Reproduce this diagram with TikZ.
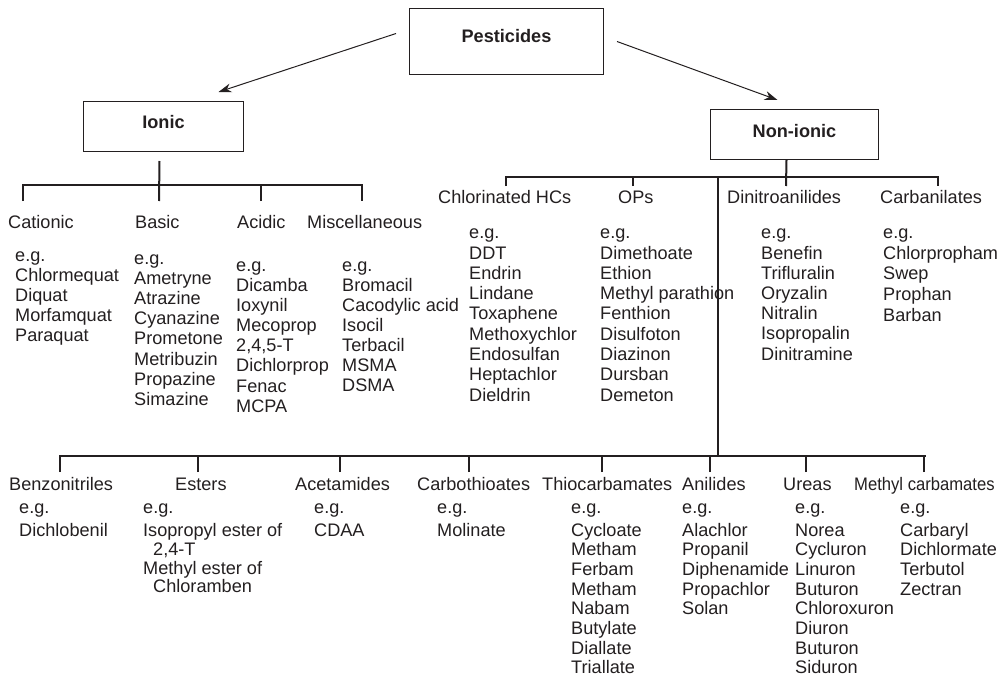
\documentclass[tikz,border=0pt]{standalone}
\usepackage{fontspec}
\setmainfont{Liberation Sans}
\usetikzlibrary{arrows.meta,calc}
\definecolor{ink}{HTML}{231F20}
% a column of entries: #1 name prefix, #2 x, #3 first baseline, #4 line step, #5 entries
\newcommand\plist[5]{%
  \foreach \t [count=\i] in {#5}
    \node[entry] (#1\i) at (#2,{#3+(\i-1)*#4}) {\t};}
\begin{document}
\begin{tikzpicture}[x=1bp,y=-1bp,
  every node/.style={text=ink},
  entry/.style={anchor=base west,inner sep=0pt,font=\fontsize{18.2}{20}\selectfont},
  catbox/.style={draw=ink,line width=1bp,anchor=north west,inner sep=0pt,
    font=\fontsize{18.2}{20}\selectfont\bfseries,text height=13bp},
  tree/.style={draw=ink,line width=2bp},
  arr/.style={draw=ink,line width=1bp,-{Stealth[length=13bp,width=9bp]}}]
\useasboundingbox (0,0) rectangle (1005,678);

% top level boxes
\node[catbox,minimum width=194bp,minimum height=66bp,text depth=11.6bp] (P) at (409,8) {Pesticides};
\node[catbox,minimum width=160bp,minimum height=50bp,text depth=8.4bp] (I) at (83,101) {Ionic};
\node[catbox,minimum width=168bp,minimum height=50bp,text depth=7.6bp] (N) at (710,109) {Non-ionic};

\draw[arr] ($(P.west)+(-13,-8)$) -- ($(I.north)+(55,-9)$);
\draw[arr] ($(P.east)+(13,0)$) -- ($(N.north)+(-17,-9)$);

% ionic branch
\coordinate (ibar) at (159,185);
\coordinate (tcat) at (23,201);
\coordinate (tbas) at (159,201);
\coordinate (tacid) at (261,201);
\coordinate (tmisc) at (362,201);
\draw[tree] (tcat) -- (tcat |- ibar) -- (tmisc |- ibar) -- (tmisc);
\draw[tree] ($(I.south)+(-4,9)$) -- (tbas);
\draw[tree] (tacid) -- (tacid |- ibar);

\node[entry] (cat) at (8,228.5) {Cationic};
\node[entry] (bas) at (135,228.5) {Basic};
\node[entry] (acid) at (237,228.5) {Acidic};
\node[entry] (misc) at (307,228.5) {Miscellaneous};

\node[entry] (cat0) at (15,261.7) {e.g.};
\plist{cat}{15}{281.7}{20}{Chlormequat,Diquat,Morfamquat,Paraquat}
\node[entry] (bas0) at (134,264) {e.g.};
\plist{bas}{134}{284}{20.3}{Ametryne,Atrazine,Cyanazine,Prometone,Metribuzin,Propazine,Simazine}
\node[entry] (acid0) at (236,271.5) {e.g.};
\plist{acid}{236}{291}{20.2}{Dicamba,Ioxynil,Mecoprop,{2,4,5-T},Dichlorprop,Fenac,MCPA}
\node[entry] (misc0) at (342,271.5) {e.g.};
\plist{misc}{342}{291}{20.1}{Bromacil,Cacodylic acid,Isocil,Terbacil,MSMA,DSMA}

% non-ionic branch
\coordinate (nbar) at (786,177);
\coordinate (tchl) at (506,186);
\coordinate (tops) at (633,186);
\coordinate (tdin) at (786,186);
\coordinate (tcarb) at (938,186);
\coordinate (bj) at (718,456);
\draw[tree] (tchl) -- (tchl |- nbar) -- (tcarb |- nbar) -- (tcarb);
\draw[tree] ($(N.south)+(-8,0)$) -- (tdin);
\draw[tree] (tops) -- (tops |- nbar);
\draw[tree] (bj |- nbar) -- (bj);

\node[entry] (chl) at (438,203) {Chlorinated HCs};
\node[entry] (ops) at (618,203) {OPs};
\node[entry] (din) at (727,203) {Dinitroanilides};
\node[entry] (carb) at (880,203) {Carbanilates};

\node[entry] (chl0) at (469,238.7) {e.g.};
\plist{chl}{469}{259}{20.3}{DDT,Endrin,Lindane,Toxaphene,Methoxychlor,Endosulfan,Heptachlor,Dieldrin}
\node[entry] (ops0) at (600,238.7) {e.g.};
\plist{ops}{600}{259}{20.3}{Dimethoate,Ethion,Methyl parathion,Fenthion,Disulfoton,Diazinon,Dursban,Demeton}
\node[entry] (din0) at (761,238.7) {e.g.};
\plist{din}{761}{259}{20.2}{Benefin,Trifluralin,Oryzalin,Nitralin,Isopropalin,Dinitramine}
\node[entry] (carb0) at (883,238.7) {e.g.};
\plist{carb}{883}{259}{20.9}{Chlorpropham,Swep,Prophan,Barban}

% lower families
\coordinate (tbz) at (60,472);
\coordinate (tes) at (198,472);
\coordinate (tac) at (340,472);
\coordinate (tct) at (469,472);
\coordinate (ttc) at (602,472);
\coordinate (tan) at (710,472);
\coordinate (tur) at (806,472);
\coordinate (tmc) at (924,472);
\draw[tree] (tbz) -- (tbz |- bj) -- ($(tmc |- bj)+(2,0)$);
\draw[tree] (tmc) -- (tmc |- bj);
\foreach \c in {tes,tac,tct,ttc,tan,tur}
  \draw[tree] (\c) -- (\c |- bj);

\node[entry] (bz) at (9,490.7) {Benzonitriles};
\node[entry] (es) at (175,490.7) {Esters};
\node[entry] (ac) at (295,490.7) {Acetamides};
\node[entry] (ct) at (417,490.7) {Carbothioates};
\node[entry] (tc) at (542,490.7) {Thiocarbamates};
\node[entry] (an) at (682,490.7) {Anilides};
\node[entry] (ur) at (783,490.7) {Ureas};
\node[entry] (mc) at (854,490.7) {\scalebox{0.917}[1]{Methyl carbamates}};

\node[entry] (bz0) at (19,513.3) {e.g.};
\plist{bz}{19}{536}{19.7}{Dichlobenil}
\node[entry] (es0) at (143,513.3) {e.g.};
\node[entry] (es1) at (143,536) {Isopropyl ester of};
\node[entry] (es2) at (153,555) {2,4-T};
\node[entry] (es3) at (143,574) {Methyl ester of};
\node[entry] (es4) at (153,592) {Chloramben};
\node[entry] (ac0) at (314,513.3) {e.g.};
\plist{ac}{314}{536}{19.7}{CDAA}
\node[entry] (ct0) at (437,513.3) {e.g.};
\plist{ct}{437}{536}{19.7}{Molinate}
\node[entry] (tc0) at (571,513.3) {e.g.};
\plist{tc}{571}{536}{19.7}{Cycloate,Metham,Ferbam,Metham,Nabam,Butylate,Diallate,Triallate}
\node[entry] (an0) at (682,513.3) {e.g.};
\plist{an}{682}{536}{19.7}{Alachlor,Propanil,Diphenamide,Propachlor,Solan}
\node[entry] (ur0) at (795,513.3) {e.g.};
\plist{ur}{795}{536}{19.7}{Norea,Cycluron,Linuron,Buturon,Chloroxuron,Diuron,Buturon,Siduron}
\node[entry] (mc0) at (900,513.3) {e.g.};
\plist{mc}{900}{536}{19.7}{Carbaryl,Dichlormate,Terbutol,Zectran}
\end{tikzpicture}
\end{document}
